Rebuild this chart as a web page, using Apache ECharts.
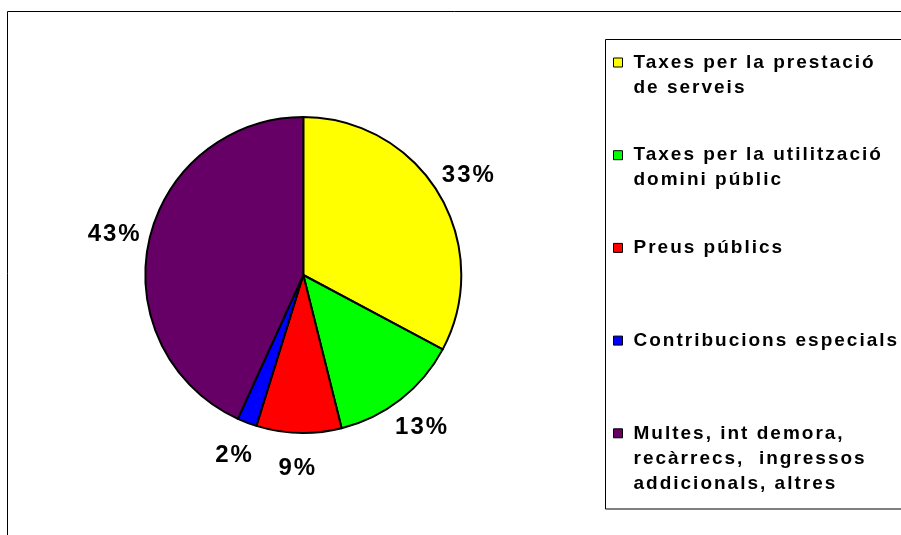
<!DOCTYPE html>
<html>
<head>
<meta charset="utf-8">
<script src="https://cdn.jsdelivr.net/npm/echarts@6/dist/echarts.min.js"></script>
<style>
html,body{margin:0;padding:0;background:#fff;}
#chart{width:901px;height:535px;}
</style>
</head>
<body>
<div id="chart"></div>
<script>
// ---- data ----
const categories = [
  "Taxes per la prestació\nde serveis",
  "Taxes per la utilització\ndomini públic",
  "Preus públics",
  "Contribucions especials",
  "Multes, int demora,\nrecàrrecs,  ingressos\naddicionals, altres"
];
const values = [32.8, 13.3, 8.7, 2.0, 43.2];
const colors = ["#FFFF00", "#00FF00", "#FF0000", "#0000FF", "#660066"];

// ---- layout ----
const FONT = 'Arial, "Liberation Sans", sans-serif';
const LINE = 25;

const chart = echarts.init(document.getElementById('chart'), null, {renderer: 'canvas'});

// wider character spacing, as in the reference rendering
try {
  const layer = chart.getZr().painter.getLayer(0);
  if (layer && layer.ctx) layer.ctx.letterSpacing = '2px';
} catch (e) {}

const pieData = categories.map((name, i) => ({
  name: name,
  value: values[i],
  itemStyle: {color: colors[i]}
}));

const option = {
  animation: false,
  backgroundColor: '#ffffff',
  graphic: [
    {type: 'rect', silent: true, z: -10,
     shape: {x: 7.5, y: 11.5, width: 1000, height: 1000},
     style: {fill: 'none', stroke: '#000', lineWidth: 1}},
    {type: 'rect', silent: true, z: -9,
     shape: {x: 605.5, y: 39.5, width: 1000, height: 469.5},
     style: {fill: '#fff', stroke: '#000', lineWidth: 1}}
  ],
  legend: {
    orient: 'vertical',
    left: 613,
    top: 0,
    padding: 0,
    itemGap: -32.3,
    itemWidth: 9,
    itemHeight: 9,
    icon: 'rect',
    selectedMode: false,
    itemStyle: {borderColor: '#000', borderWidth: 1},
    // every entry is a 5-line block whose first text line sits on the marker
    formatter: function (name) {
      const n = name.split('\n').length;
      return '\n\n' + name + '\n'.repeat(3 - n);
    },
    textStyle: {
      fontFamily: FONT,
      fontSize: 19,
      fontWeight: 'bold',
      color: '#000',
      lineHeight: LINE,
      padding: [0, 0, 0, 6]
    },
    data: categories
  },
  series: [
    {
      type: 'pie',
      center: [303.3, 275],
      radius: [0, 158],
      startAngle: 90,
      clockwise: true,
      silent: true,
      label: {show: false},
      labelLine: {show: false},
      itemStyle: {borderColor: '#000', borderWidth: 2},
      data: pieData
    },
    {
      type: 'pie',
      center: [303.3, 275],
      radius: [158, 222],
      startAngle: 90,
      clockwise: true,
      silent: true,
      itemStyle: {color: 'rgba(0,0,0,0)', borderWidth: 0},
      label: {
        show: true,
        position: 'inside',
        fontFamily: FONT,
        fontSize: 24,
        fontWeight: 'bold',
        color: '#000',
        formatter: (p) => Math.round(p.percent) + '%'
      },
      labelLine: {show: false},
      data: categories.map((name, i) => ({name: name, value: values[i]}))
    }
  ]
};

chart.setOption(option);
</script>
</body>
</html>
